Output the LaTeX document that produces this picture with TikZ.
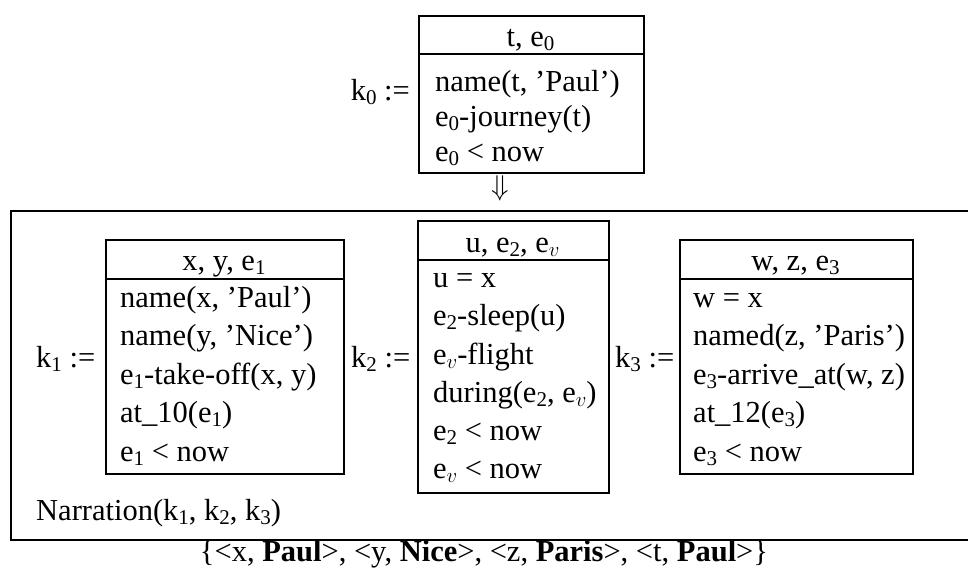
\documentclass[tikz,border=0pt]{standalone}
\usepackage{fontspec}
\setmainfont{Liberation Serif}
\newcommand{\sub}[1]{\raisebox{-0.3ex}{\fontsize{21}{21}\selectfont #1}}
\newcommand{\ev}{e\raisebox{-0.3ex}{$\scriptstyle v$}}
\begin{document}
\begin{tikzpicture}[x=1pt,y=-1pt,
  box/.style={draw,line width=1.6pt,inner sep=0pt,anchor=north west},
  hline/.style={line width=1.6pt},
  txt/.style={anchor=base west,inner sep=0pt,font=\fontsize{30.5}{36}\selectfont},
  ctxt/.style={anchor=base,inner sep=0pt,font=\fontsize{30.5}{36}\selectfont}]
\useasboundingbox (0,0) rectangle (968,571);
% k0
\node[box,minimum width=225pt,minimum height=157pt] (b0) at (418,15) {};
\draw[hline] (418,54) -- (643,54);
\node[ctxt] (h0) at (530.5,46) {t, e\sub{0}};
\node[txt] (r01) at (435,91) {name(t, ’Paul’)};
\node[txt] (r02) at (435,126) {e\sub{0}-journey(t)};
\node[txt] (r03) at (435,161) {e\sub{0} < now};
\node[txt,anchor=base east] (l0) at (410,100) {k\sub{0} :=};
\node[inner sep=0pt,font=\fontsize{30.5}{36}\selectfont] (arr) at (500,188) {\scalebox{1.15}{$\Downarrow$}};
% outer
\draw[hline] (968,211) -- (11,211) -- (11,540) -- (968,540);
% k1
\node[box,minimum width=238pt,minimum height=234pt] (b1) at (105,239) {};
\draw[hline] (105,279) -- (343,279);
\node[ctxt] (h1) at (224,270) {x, y, e\sub{1}};
\node[txt] (r11) at (120,307) {name(x, ’Paul’)};
\node[txt] (r12) at (120,345) {name(y, ’Nice’)};
\node[txt] (r13) at (120,384) {e\sub{1}-take-off(x, y)};
\node[txt] (r14) at (120,422) {at\_10(e\sub{1})};
\node[txt] (r15) at (120,461) {e\sub{1} < now};
\node[txt] (l1) at (36,367) {k\sub{1} :=};
% k2
\node[box,minimum width=191pt,minimum height=272pt] (b2) at (417,220) {};
\draw[hline] (417,260) -- (608,260);
\node[ctxt] (h2) at (512.5,252) {u, e\sub{2}, \ev};
\node[txt] (r21) at (433,287) {u = x};
\node[txt] (r22) at (433,325) {e\sub{2}-sleep(u)};
\node[txt] (r23) at (433,364) {\ev-flight};
\node[txt] (r24) at (433,402) {during(e\sub{2}, \ev)};
\node[txt] (r25) at (433,440) {e\sub{2} < now};
\node[txt] (r26) at (433,478) {\ev{} < now};
\node[txt] (l2) at (351,367) {k\sub{2} :=};
% k3
\node[box,minimum width=233pt,minimum height=234pt] (b3) at (679,239) {};
\draw[hline] (679,279) -- (912,279);
\node[ctxt] (h3) at (795.5,270) {w, z, e\sub{3}};
\node[txt] (r31) at (693,307) {w = x};
\node[txt] (r32) at (693,345) {named(z, ’Paris’)};
\node[txt] (r33) at (693,384) {e\sub{3}-arrive\_at(w, z)};
\node[txt] (r34) at (693,422) {at\_12(e\sub{3})};
\node[txt] (r35) at (693,461) {e\sub{3} < now};
\node[txt] (l3) at (615,367) {k\sub{3} :=};
% narration
\node[txt] (nar) at (36,520) {Narration(k\sub{1}, k\sub{2}, k\sub{3})};
\node[ctxt] (bot) at (484,561) {\{<x, \textbf{Paul}>, <y, \textbf{Nice}>, <z, \textbf{Paris}>, <t, \textbf{Paul}>\}};
\end{tikzpicture}
\end{document}
